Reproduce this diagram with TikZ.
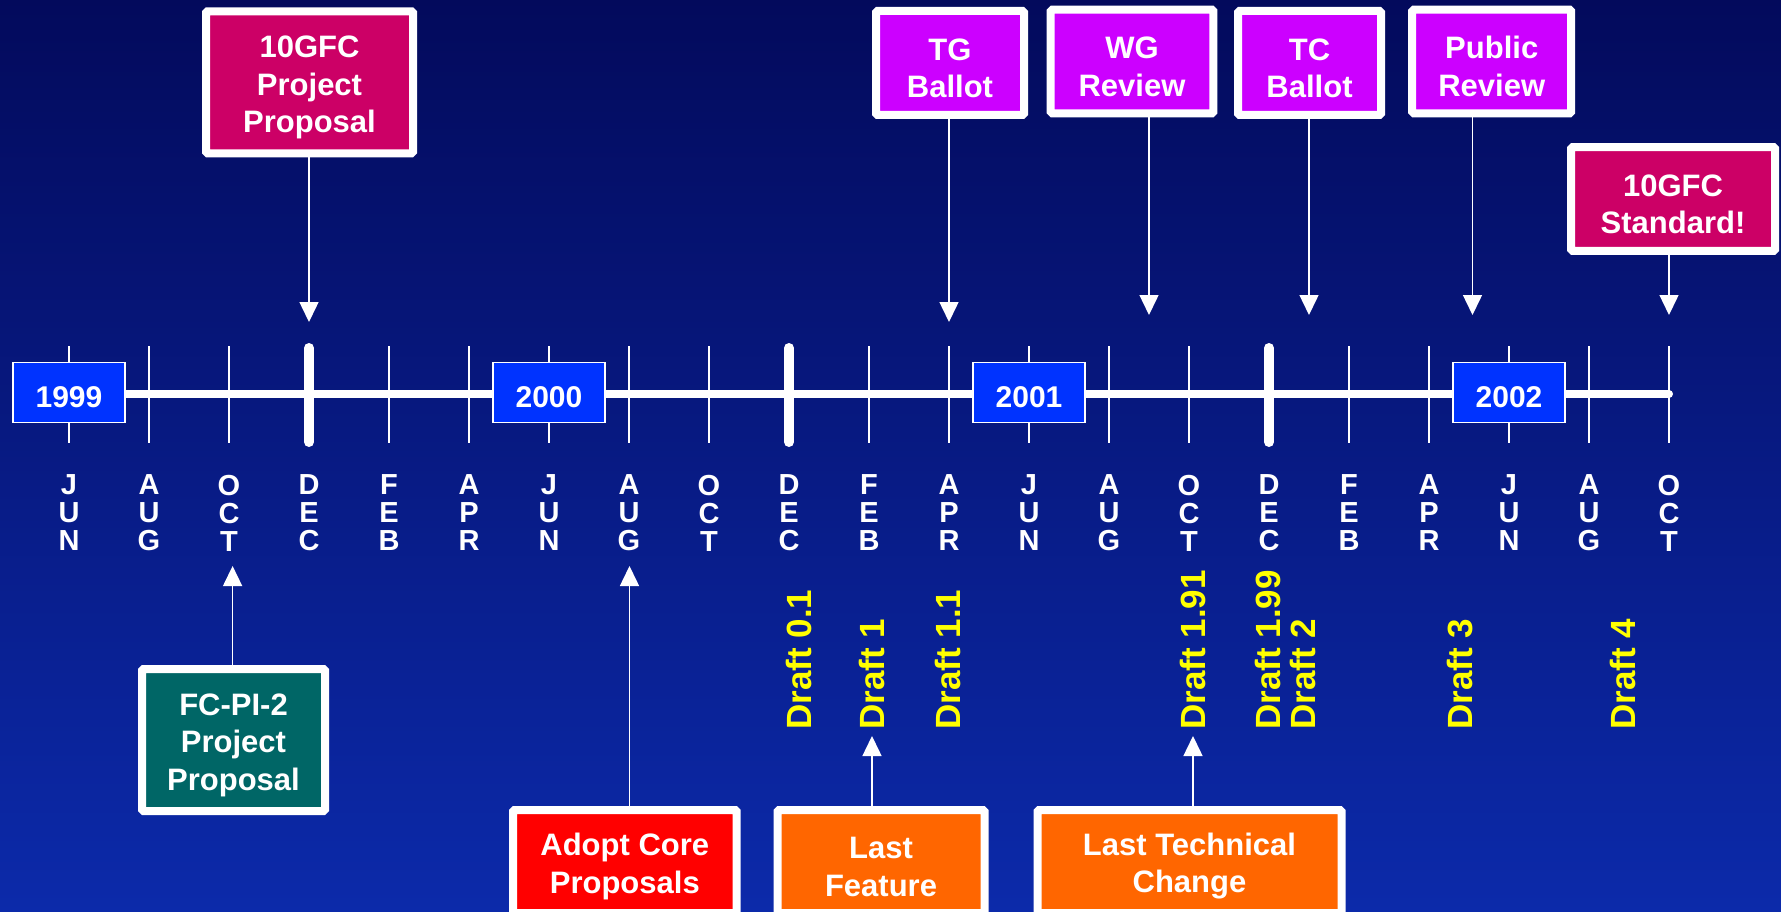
\documentclass[tikz,border=0pt]{standalone}
\usepackage{fontspec}
\setmainfont{Liberation Sans}
\usetikzlibrary{arrows.meta}
\definecolor{bgtop}{RGB}{3,10,92}
\definecolor{bgmid}{RGB}{0,20,140}
\definecolor{bgbot}{RGB}{12,42,170}
\definecolor{evcrimson}{RGB}{204,0,102}
\definecolor{evpurple}{RGB}{204,0,255}
\definecolor{evteal}{RGB}{0,102,102}
\definecolor{evred}{RGB}{255,0,0}
\definecolor{evorange}{RGB}{255,102,0}
\definecolor{yearblue}{RGB}{0,51,255}
\definecolor{draftyellow}{RGB}{255,255,0}
\newcommand{\evstrut}{\rule{0pt}{32pt}}
\begin{document}
\begin{tikzpicture}[x=1pt, y=-1pt,
        evbox/.style={draw=white, line width=8pt, rounded corners=1.5pt, text=white, align=center, inner sep=0pt, font=\fontsize{31}{37.5}\selectfont\bfseries},
        yearbox/.style={draw=white, line width=1.2pt, fill=yearblue, text=white, minimum width=112pt, minimum height=60pt, inner sep=0pt, font=\fontsize{30}{36}\selectfont\bfseries},
        monthlbl/.style={text=white, align=center, inner sep=0pt, font=\fontsize{29}{28}\selectfont\bfseries},
        draftlbl/.style={text=draftyellow, rotate=90, anchor=west, align=left, inner sep=0pt, font=\fontsize{35}{35}\selectfont\bfseries},
        evarrow/.style={white, line width=1.5pt, -{Triangle[width=19pt,length=20pt]}}]
        \useasboundingbox (0,0) rectangle (1781,912);
        \clip (0,0) rectangle (1781,912);
        \fill[top color=bgtop, middle color=bgmid, bottom color=bgbot] (0,0) rectangle (1781,912);

        % ticks and time line
        \foreach \i in {0,...,20}
            \draw[white, line width=2pt] (69+80*\i, 346) -- (69+80*\i, 443);
        \foreach \i in {3,9,15}
            \draw[white, line width=10pt, line cap=round] (69+80*\i, 348) -- (69+80*\i, 442);
        \coordinate (lineend) at (1669, 394);
        \draw[white, line width=8pt, line cap=round] (69, 394) -- (lineend);
        \foreach \yr [count=\k from 0] in {1999,2000,2001,2002}
            \node[yearbox] (yr\yr) at (69+480*\k, 392.5) {\rule{0pt}{31pt}\yr};
        \foreach \m [count=\i from 0] in {J\\U\\N, A\\U\\G, O\\C\\T, D\\E\\C, F\\E\\B, A\\P\\R,
                J\\U\\N, A\\U\\G, O\\C\\T, D\\E\\C, F\\E\\B, A\\P\\R,
                J\\U\\N, A\\U\\G, O\\C\\T, D\\E\\C, F\\E\\B, A\\P\\R,
                J\\U\\N, A\\U\\G, O\\C\\T}
            \node[monthlbl] (mon\i) at (69+80*\i, 513) {\m};

        % drafts
        \node[draftlbl] (dr01) at (799, 730) {Draft 0.1};
        \node[draftlbl] (dr1) at (872, 730) {Draft 1};
        \node[draftlbl] (dr11) at (948, 730) {Draft 1.1};
        \node[draftlbl] (dr191) at (1193, 730) {Draft 1.91};
        \node[draftlbl] (dr199) at (1285.5, 730) {Draft 1.99\\Draft 2};
        \node[draftlbl] (dr3) at (1460, 730) {Draft 3};
        \node[draftlbl] (dr4) at (1622.6, 730) {Draft 4};

        % events above
        \node[evbox, fill=evcrimson, minimum width=207pt, minimum height=142pt] (pp10) at (309.5, 82.3) {\evstrut 10GFC\\Project\\Proposal};
        \node[evbox, fill=evpurple, minimum width=148pt, minimum height=104pt] (tgb) at (950, 63) {\evstrut TG\\Ballot};
        \node[evbox, fill=evpurple, minimum width=162.6pt, minimum height=103.6pt] (wgr) at (1132, 61.5) {\evstrut WG\\Review};
        \node[evbox, fill=evpurple, minimum width=143pt, minimum height=104pt] (tcb) at (1309.5, 63) {\evstrut TC\\Ballot};
        \node[evbox, fill=evpurple, minimum width=159pt, minimum height=103.6pt] (pubr) at (1491.7, 61.5) {\evstrut Public\\Review};
        \node[evbox, fill=evcrimson, minimum width=204pt, minimum height=103.7pt] (std10) at (1673, 199) {\evstrut 10GFC\\Standard!};
        \coordinate (tippp) at (309, 322);
        \coordinate (tiptg) at (949, 322);
        \coordinate (tipwg) at (1149, 315);
        \coordinate (tiptc) at (1309, 315);
        \coordinate (tippub) at (1472.5, 315);
        \coordinate (tipstd) at (1669, 315);
        \draw[evarrow] (tippp |- pp10.south) -- (tippp);
        \draw[evarrow] (tiptg |- tgb.south) -- (tiptg);
        \draw[evarrow] (tipwg |- wgr.south) -- (tipwg);
        \draw[evarrow] (tiptc |- tcb.south) -- (tiptc);
        \draw[evarrow] (tippub |- pubr.south) -- (tippub);
        \draw[evarrow] (tipstd |- std10.south) -- (tipstd);

        % events below
        \node[evbox, fill=evteal, minimum width=183pt, minimum height=142pt] (fcpi) at (233.5, 740) {\evstrut FC-PI-2\\Project\\Proposal};
        \node[evbox, fill=evred, minimum width=223.6pt, minimum height=103pt] (adopt) at (624.8, 861.5) {\evstrut Adopt Core\\Proposals};
        \node[evbox, fill=evorange, minimum width=207pt, minimum height=103pt] (lastf) at (881, 861.5) {\evstrut Last\\Feature};
        \node[evbox, fill=evorange, minimum width=304pt, minimum height=103pt] (lastt) at (1189.5, 861.5) {\evstrut Last Technical\\Change};
        \coordinate (tipfc) at (232.6, 566);
        \coordinate (tipad) at (629.5, 566);
        \draw[evarrow] (tipfc |- fcpi.north) -- (tipfc);
        \draw[evarrow] (tipad |- adopt.north) -- (tipad);
        \draw[evarrow, shorten >=6pt] (dr1.west |- lastf.north) -- (dr1.west);
        \draw[evarrow, shorten >=6pt] (dr191.west |- lastt.north) -- (dr191.west);
    \end{tikzpicture}
\end{document}
